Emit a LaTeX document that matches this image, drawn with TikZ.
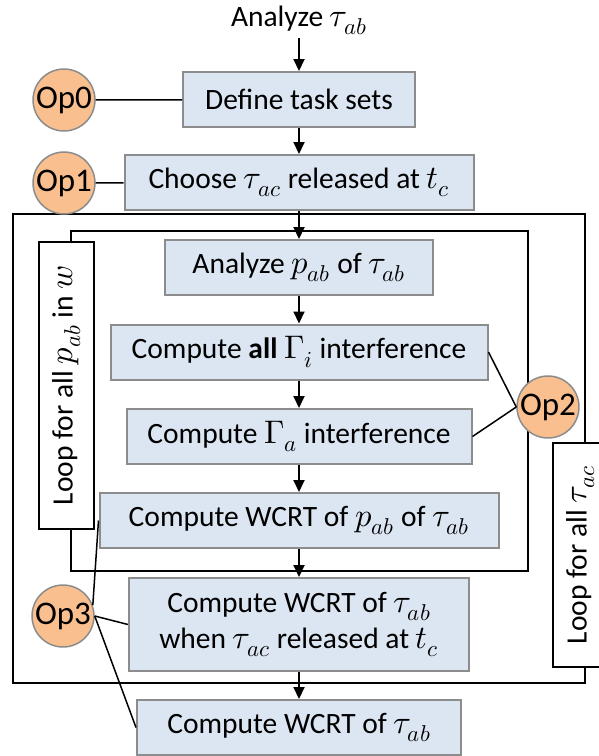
\documentclass[tikz,border=0pt]{standalone}
\usepackage{fontspec}
\usepackage{unicode-math}
\setmainfont{Carlito}
\setmathfont{latinmodern-math.otf}[Scale=MatchLowercase]
\usetikzlibrary{arrows.meta}
\definecolor{BOXBLUE}{HTML}{DCE6F2}
\definecolor{BOXGRAY}{HTML}{8C8C8C}
\definecolor{OPORANGE}{HTML}{F9BF8F}
\definecolor{BLACK}{HTML}{000000}
\tikzset{
    taskbox/.style={draw=BOXGRAY, fill=BOXBLUE, line width=2pt, inner sep=0pt, align=center, minimum height=55pt},
    opcircle/.style={circle, draw=BOXGRAY, fill=OPORANGE, line width=1.5pt, minimum size=57pt, inner sep=0pt, font=\fontsize{33}{36}\selectfont},
    loopbox/.style={draw=BLACK, fill=white, line width=2pt, rotate=90, minimum height=55pt, inner sep=0pt},
    flow/.style={BLACK, line width=2pt, -{Triangle[length=12pt,width=11pt]}},
    link/.style={BLACK, line width=1.5pt}
}

\begin{document}
\begin{tikzpicture}[x=1pt, y=-1pt, font=\fontsize{29.5}{36}\selectfont]
    \useasboundingbox (0,0) rectangle (598,756);
    % Loops
    \draw[BLACK, line width=2.5pt] (585,443) -- (585,214) -- (13,214) -- (13,683) -- (585,683) -- (585,667);
    \draw[BLACK, line width=2pt] (71,242) -- (71,231) -- (528,231) -- (528,571) -- (71,571) -- (71,529);
    \node[loopbox, minimum width=287pt] (loopp) at (66.5,385.5) {Loop for all $p_{ab}$ in $w$};
    \node[loopbox, minimum width=224pt] (loopc) at (580.5,555) {Loop for all $\tau_{ac}$};
    % Steps
    \node (title) at (299,20) {Analyze $\tau_{ab}$};
    \node[taskbox, minimum width=232pt] (define) at (299,99.5) {Define task sets};
    \node[taskbox, minimum width=349pt] (choose) at (299,182.5) {Choose $\tau_{ac}$ released at $t_c$};
    \node[taskbox, minimum width=268pt] (analyze) at (299,267.5) {Analyze $p_{ab}$ of $\tau_{ab}$};
    \node[taskbox, minimum width=377pt] (allgamma) at (299,352) {Compute \textbf{all} $\Gamma_i$ interference};
    \node[taskbox, minimum width=345pt] (gammaa) at (299,436.5) {Compute $\Gamma_a$ interference};
    \node[taskbox, minimum width=399pt] (wcrtp) at (299,520.5) {Compute WCRT of $p_{ab}$ of $\tau_{ab}$};
    \node[taskbox, minimum width=340pt, minimum height=93pt] (wcrtc) at (299,624.5) {Compute WCRT of $\tau_{ab}$\\when $\tau_{ac}$ released at $t_c$};
    \node[taskbox, minimum width=324pt] (wcrt) at (299,727.5) {Compute WCRT of $\tau_{ab}$};
    % Options
    \node[opcircle] (op0) at (64,100) {Op0};
    \node[opcircle] (op1) at (64,183) {Op1};
    \node[opcircle] (op2) at (548,407) {Op2};
    \node[opcircle] (op3) at (63,616) {Op3};
    % Arrows
    \draw[flow] (title) -- (define);
    \draw[flow] (define) -- (choose);
    \draw[flow] (choose) -- (analyze);
    \draw[flow] (analyze) -- (allgamma);
    \draw[flow] (allgamma) -- (gammaa);
    \draw[flow] (gammaa) -- (wcrtp);
    \draw[flow] (wcrtp) -- (wcrtc);
    \draw[flow] (wcrtc) -- (wcrt);
    % Links
    \draw[link] (op0) -- (define);
    \draw[link] (op1) -- (choose);
    \draw[link] (allgamma.east) -- (op2.west);
    \draw[link] (gammaa.east) -- (op2.west);
    \draw[link] (wcrtp.west) -- (op3.20);
    \draw[link] (op3.east) -- (wcrtc.west);
    \draw[link] (op3.east) -- (wcrt.west);
\end{tikzpicture}
\end{document}
